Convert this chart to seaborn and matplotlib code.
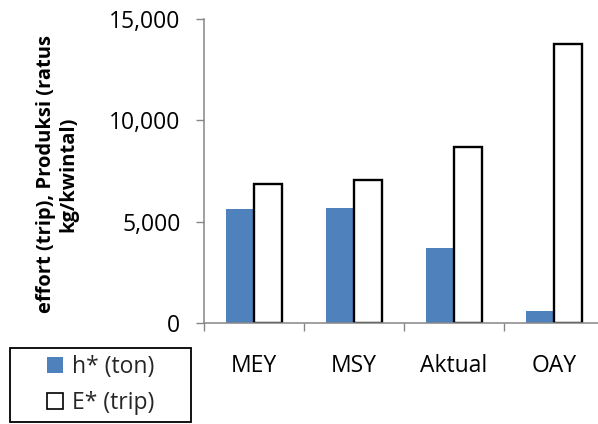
import matplotlib
matplotlib.use("Agg")
import matplotlib.pyplot as plt
from matplotlib.patches import Patch, Rectangle
from matplotlib.ticker import FixedLocator, FuncFormatter
import seaborn as sns
import pandas as pd

# Management reference points and their values
categories = ["MEY", "MSY", "Aktual", "OAY"]
series_names = ["h* (ton)", "E* (trip)"]
harvest = [5650, 5660, 3710, 620]
effort = [6870, 7060, 8680, 13770]
y_ticks = [0, 5000, 10000, 15000]

df = pd.DataFrame({
    "kategori": categories * 2,
    "seri": [series_names[0]] * len(categories) + [series_names[1]] * len(categories),
    "nilai": harvest + effort,
})

sns.set_theme(style="white")
plt.rcParams["font.family"] = ["Open Sans", "DejaVu Sans"]

blue = "#4F81BD"
spine_gray = "#868686"

fig = plt.figure(figsize=(5.98, 4.24), dpi=100)
ax = fig.add_axes([204 / 598, (424 - 323.3) / 424, 400 / 598, 304.3 / 424])

sns.barplot(data=df, x="kategori", y="nilai", hue="seri", order=categories,
            hue_order=series_names, palette=[blue, "white"], width=0.56,
            gap=0, dodge=True, legend=False, ax=ax, saturation=1)

# Outline only the effort bars
for patch in ax.containers[1]:
    patch.set_edgecolor("black")
    patch.set_linewidth(1.7)
for patch in ax.containers[0]:
    patch.set_edgecolor("none")

ax.set_xlim(-0.5, 3.5)
ax.set_ylim(0, 15000)
ax.set_yticks(y_ticks)
ax.yaxis.set_major_formatter(FuncFormatter(lambda v, p: f"{int(v):,}"))

# Tick marks sit between categories; labels centred under each group
ax.xaxis.set_major_locator(FixedLocator([-0.5, 0.5, 1.5, 2.5]))
ax.xaxis.set_major_formatter(FuncFormatter(lambda v, p: ""))
ax.xaxis.set_minor_locator(FixedLocator(range(len(categories))))
ax.set_xticklabels(categories, minor=True)

ax.tick_params(axis="x", which="major", direction="out", length=6, width=1,
               color=spine_gray, bottom=True)
ax.tick_params(axis="x", which="minor", length=0, pad=22, labelsize=16.5,
               labelcolor="black", bottom=True)
ax.tick_params(axis="y", direction="out", length=6, width=1, color=spine_gray,
               pad=11, labelsize=16.5, labelcolor="black", left=True)

for side in ["top", "right"]:
    ax.spines[side].set_visible(False)
for side in ["left", "bottom"]:
    ax.spines[side].set_color(spine_gray)
    ax.spines[side].set_linewidth(1.1)

ax.set_xlabel("")
ax.set_ylabel("effort (trip), Produksi (ratus\nkg/kwintal)", fontsize=14.5,
              fontweight="bold", color="black", linespacing=1.1)
ax.yaxis.set_label_coords(-0.315, 0.49)

# Legend box below the axis label, with entries centred inside it
box_x0, box_y0, box_x1, box_y1 = 10, 348, 191, 422
fig.patches.append(Rectangle((box_x0 / 598, (424 - box_y1) / 424),
                             (box_x1 - box_x0) / 598, (box_y1 - box_y0) / 424,
                             transform=fig.transFigure, facecolor="white",
                             edgecolor="black", linewidth=1.3, zorder=1))
handles = [Patch(facecolor=blue, edgecolor="none", label=series_names[0]),
           Patch(facecolor="white", edgecolor="black", linewidth=1.2,
                 label=series_names[1])]
leg = fig.legend(handles=handles, loc="center",
                 bbox_to_anchor=(box_x0 / 598, (424 - box_y1) / 424,
                                 (box_x1 - box_x0) / 598, (box_y1 - box_y0) / 424),
                 frameon=False, fontsize=16.5,
                 handlelength=0.7, handleheight=0.7, handletextpad=0.4,
                 borderpad=0.1, labelspacing=0.5, borderaxespad=0)
leg.set_zorder(2)

fig.savefig("out.png", dpi=100)
